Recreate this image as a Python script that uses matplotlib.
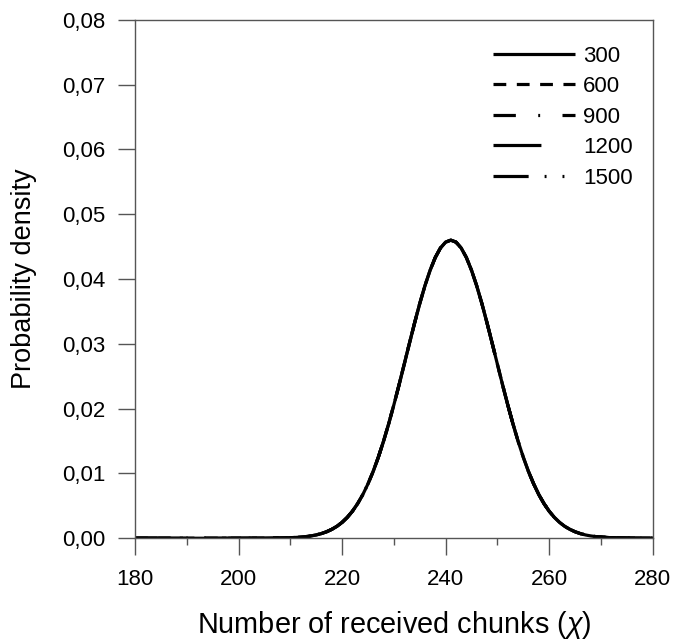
import matplotlib
matplotlib.use("Agg")
import matplotlib.pyplot as plt
from matplotlib.ticker import MultipleLocator, FuncFormatter

plt.rcParams['font.family'] = ['Liberation Sans', 'DejaVu Sans']
plt.rcParams['mathtext.fontset'] = 'custom'
plt.rcParams['mathtext.it'] = 'Liberation Sans:italic'
plt.rcParams['mathtext.rm'] = 'Liberation Sans'

# Number of received chunks (x) and probability density
chunks = [180, 190, 200, 205, 209, 211, 213, 214, 215, 216, 217, 218, 219,
          220, 221, 222, 223, 224, 225, 226, 227, 228, 229, 230, 231, 232,
          233, 234, 235, 236, 237, 238, 239, 240, 241, 242, 243, 244, 245,
          246, 247, 248, 249, 250, 251, 252, 253, 254, 255, 256, 257, 258,
          259, 260, 261, 262, 263, 264, 265, 266, 267, 268, 269, 271, 273,
          276, 280]
density = [0.0, 0.0, 0.0, 0.00001, 0.00005, 0.00012, 0.00025, 0.00036,
           0.00051, 0.00072, 0.00100, 0.00137, 0.00184, 0.00245, 0.00322,
           0.00417, 0.00534, 0.00673, 0.00839, 0.01030, 0.01250, 0.01496,
           0.01766, 0.02058, 0.02366, 0.02685, 0.03006, 0.03321, 0.03622,
           0.03896, 0.04135, 0.04333, 0.04479, 0.04570, 0.04600, 0.04570,
           0.04479, 0.04333, 0.04135, 0.03896, 0.03622, 0.03321, 0.03006,
           0.02685, 0.02366, 0.02058, 0.01766, 0.01496, 0.01250, 0.01030,
           0.00839, 0.00673, 0.00534, 0.00417, 0.00322, 0.00245, 0.00184,
           0.00137, 0.00100, 0.00072, 0.00051, 0.00036, 0.00025, 0.00012,
           0.00005, 0.00001, 0.0]

series_labels = ['300', '600', '900', '1200', '1500']
series_values = [density, density, density, density, density]

styles = [
    '-',
    (0, (4, 3.3)),
    (0, (7, 7, 0.6, 7)),
    (0, (15, 15)),
    (0, (11, 5, 0.6, 5, 0.6, 5)),
]

fig = plt.figure(figsize=(6.75, 6.4), dpi=100)
ax = fig.add_axes([0.2, 0.159, 0.767, 0.81])

for lab, vals, ls in zip(series_labels[::-1], series_values[::-1], styles[::-1]):
    ax.plot(chunks, vals, color='black', lw=2.3, linestyle=ls, label=lab,
            solid_capstyle='butt', dash_capstyle='butt')

ax.set_xlim(180, 280)
ax.set_ylim(0, 0.08)
ax.xaxis.set_major_locator(MultipleLocator(20))
ax.xaxis.set_minor_locator(MultipleLocator(10))
ax.yaxis.set_major_locator(MultipleLocator(0.01))
ax.yaxis.set_major_formatter(FuncFormatter(lambda v, p: f"{v:.2f}".replace('.', ',')))

ax.tick_params(axis='both', which='major', direction='out', length=12, width=1,
               color='#555555', labelsize=16, pad=9)
ax.tick_params(axis='x', which='major', length=12, pad=10)
ax.tick_params(axis='x', which='minor', direction='out', length=5, width=1, color='#555555')
for s in ax.spines.values():
    s.set_color('#555555')
    s.set_linewidth(1)

ax.set_xlabel('Number of received chunks ($\\mathit{\\chi}$)', fontsize=20.8, labelpad=14)
ax.set_ylabel('Probability density', fontsize=19.5, labelpad=18)

handles, labels = ax.get_legend_handles_labels()
leg = ax.legend(handles[::-1], labels[::-1], loc='upper right', frameon=False,
                fontsize=16, handlelength=3.7, handletextpad=0.35,
                labelspacing=0.43, bbox_to_anchor=(1.0, 0.989))

fig.savefig('out.png', dpi=100)
